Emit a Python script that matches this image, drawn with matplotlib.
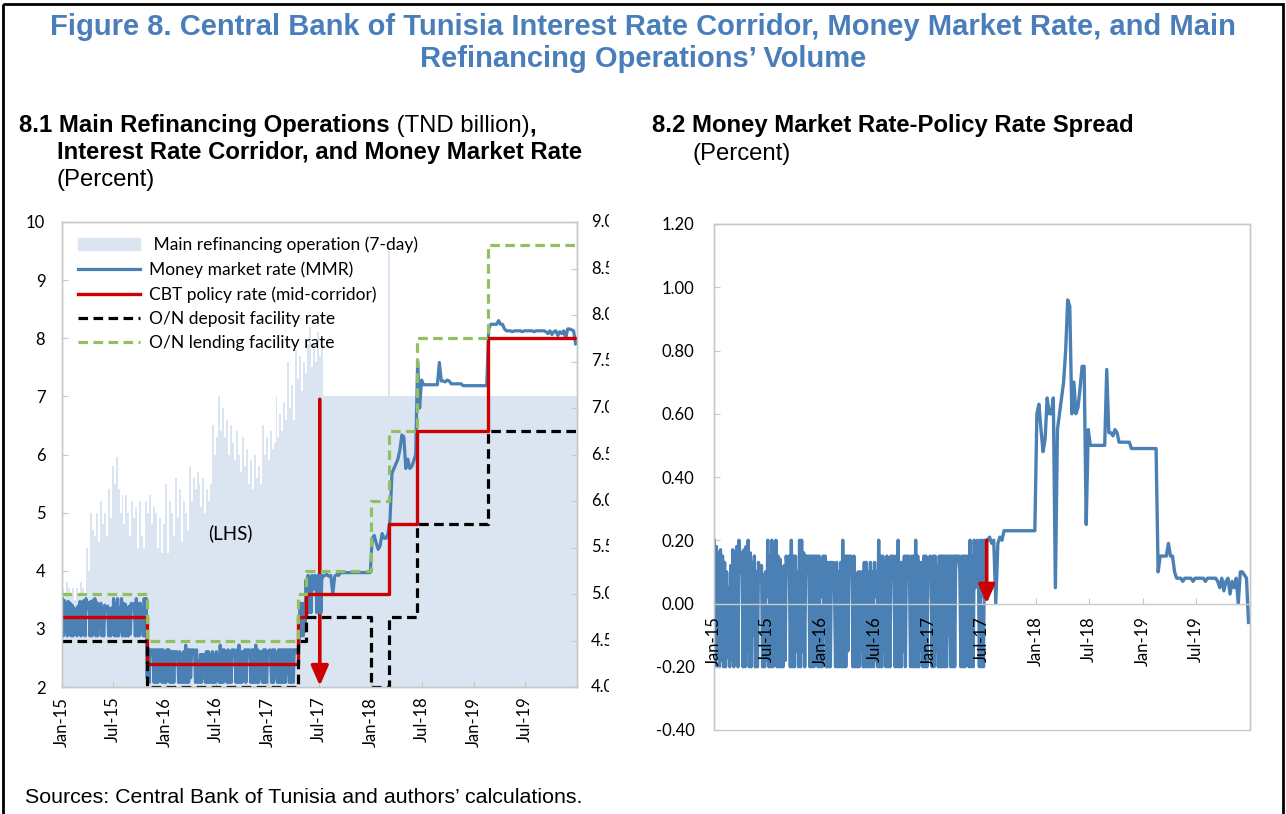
import numpy as np
import pandas as pd
import matplotlib
matplotlib.use("Agg")
import matplotlib.pyplot as plt
from matplotlib.patches import Patch, Rectangle
from matplotlib.lines import Line2D
from matplotlib.transforms import Bbox, TransformedBbox, blended_transform_factory

plt.rcParams['font.family'] = ['Lato', 'DejaVu Sans']

# ---------------- data ----------------
start = '2015-01-02'

# MMR minus policy rate, percent: twice a week up to mid-July 2017 ...
spread_early = [
    0.20, -0.20, 0.18, -0.15, 0.16, -0.20, 0.17, -0.18, 0.15, -0.20, 0.13, -0.20, 0.10, -0.17,
    0.05, -0.20, 0.12, -0.18, 0.17, -0.20, 0.16, -0.15, 0.18, -0.20, 0.20, 0.15, 0.10, 0.16,
    -0.20, 0.17, -0.20, 0.18, -0.15, 0.20, -0.20, 0.16, -0.20, 0.13, -0.10, 0.15, -0.20, 0.10,
    -0.20, 0.13, 0.08, 0.10, 0.12, -0.20, 0.09, -0.20, 0.10, -0.18, 0.20, -0.20, 0.15, -0.20,
    0.20, -0.20, 0.10, -0.15, 0.20, -0.20, 0.15, -0.20, 0.14, -0.20, 0.10, -0.20, 0.12, -0.18,
    0.15, 0.10, 0.12, 0.15, -0.20, 0.20, -0.20, 0.15, -0.20, 0.15, -0.15, 0.10, -0.20, 0.20,
    -0.20, 0.20, -0.15, 0.16, -0.20, 0.15, 0.15, 0.10, 0.15, -0.20, 0.15, -0.20, 0.15, -0.20,
    0.15, -0.15, 0.15, -0.20, 0.15, -0.20, 0.13, -0.20, 0.15, -0.10, 0.15, -0.20, 0.13, -0.20,
    0.13, -0.20, 0.13, 0.10, 0.13, 0.05, -0.20, 0.13, -0.20, 0.10, -0.20, 0.13, -0.20, 0.20,
    -0.20, 0.15, -0.20, 0.15, -0.15, 0.15, 0.12, 0.15, 0.13, -0.20, 0.15, -0.20, 0.03, -0.20,
    0.10, -0.20, 0.10, -0.15, 0.10, -0.20, 0.13, -0.20, 0.13, -0.20, 0.10, -0.20, 0.13, -0.20,
    0.10, -0.20, 0.13, -0.18, 0.10, -0.20, 0.20, -0.20, 0.15, -0.20, 0.15, -0.15, 0.13, -0.20,
    0.15, -0.20, 0.13, -0.20, 0.15, 0.12, 0.15, 0.10, -0.20, 0.15, -0.20, 0.20, -0.20, 0.13,
    -0.20, 0.13, -0.15, 0.15, -0.20, 0.15, 0.13, 0.15, 0.10, -0.20, 0.15, -0.20, 0.15, -0.20,
    0.20, -0.20, 0.15, -0.20, 0.13, -0.15, 0.13, -0.20, 0.15, -0.20, 0.15, -0.20, 0.13, 0.10,
    0.15, 0.11, -0.20, 0.15, -0.20, 0.15, -0.15, 0.12, -0.20, 0.15, -0.20, 0.15, -0.20, 0.15,
    -0.20, 0.15, -0.20, 0.15, -0.10, 0.15, -0.20, 0.15, -0.20, 0.15, -0.20, 0.15, 0.15, 0.13,
    0.15, 0.10, -0.20, 0.15, -0.20, 0.15, -0.20, 0.15, -0.15, 0.15, -0.20, 0.20, -0.20, 0.15,
    -0.20, 0.20, 0.05, 0.10, 0.20, 0.15, -0.20, 0.20, -0.20, 0.20, -0.20, 0.20, 0.18, 0.20,
]
# ... then weekly to the end of 2019
spread_late = [
    0.20, 0.21, 0.19, 0.20, 0.00, 0.19, 0.21, 0.20,
    0.23, 0.23, 0.23, 0.23, 0.23, 0.23, 0.23, 0.23,
    0.23, 0.23, 0.23, 0.23, 0.23, 0.23, 0.23, 0.23,
    0.60, 0.63, 0.55, 0.48, 0.52, 0.65, 0.60, 0.60, 0.65,
    0.05, 0.55, 0.60, 0.65, 0.70, 0.80, 0.96, 0.94,
    0.60, 0.70, 0.60, 0.62, 0.68, 0.75, 0.75, 0.25, 0.55,
    0.50, 0.50, 0.50, 0.50, 0.50, 0.50, 0.50, 0.50, 0.74,
    0.54, 0.54, 0.53, 0.55, 0.54,
    0.51, 0.51, 0.51, 0.51, 0.51, 0.51,
    0.49, 0.49, 0.49, 0.49, 0.49, 0.49, 0.49, 0.49, 0.49, 0.49, 0.49, 0.49, 0.49,
    0.10, 0.15, 0.15, 0.15, 0.15, 0.19, 0.15, 0.15, 0.10,
    0.08, 0.08, 0.08, 0.07, 0.08, 0.08, 0.08, 0.08, 0.07, 0.08,
    0.08, 0.08, 0.08, 0.08, 0.07, 0.08, 0.08, 0.08, 0.08, 0.08,
    0.07, 0.05, 0.08, 0.04, 0.07, 0.08, 0.03, 0.07, 0.05, 0.08, 0.00,
    0.10, 0.10, 0.09, 0.08, -0.06,
]

# main refinancing operations, TND billion, weekly
mro = [
    3.7, 3.6, 3.8, 3.7, 3.6, 3.7, 3.5, 3.7, 3.6, 3.8, 3.7, 3.6,
    4.4, 4.0, 5.0, 4.7, 4.6, 5.0, 4.5, 5.2, 4.8, 5.0, 4.6, 5.4, 4.9,
    5.8, 5.5, 5.95, 5.4, 5.0, 5.3, 4.8, 5.3, 5.0, 4.6, 5.2, 4.9,
    5.1, 4.4, 5.2, 4.6, 4.4, 5.2, 5.0, 5.3, 4.8, 5.1,
    5.0, 4.4, 4.9, 4.3, 4.8, 5.5, 4.3, 5.2, 5.0, 4.6,
    5.6, 4.9, 5.4, 4.5, 5.2, 5.0, 4.7, 5.8, 5.2, 5.6, 5.4, 5.7,
    5.5, 5.1, 5.6, 5.0, 5.4, 5.2, 5.5, 6.5, 6.0, 6.3, 7.0, 6.4,
    6.8, 6.3, 6.6, 6.0, 6.5, 6.2, 5.9, 6.4, 6.0, 5.7, 6.3, 5.8,
    6.1, 5.5, 5.9, 5.4, 6.0, 5.6, 5.8, 5.5,
    6.5, 6.0, 6.3, 5.9, 6.4, 6.1, 6.2, 7.0, 6.3, 6.7, 6.4, 6.9, 6.6,
    7.6, 6.8, 7.2, 6.6, 7.8, 7.3, 7.7, 7.1, 7.6, 7.4, 7.9,
    8.2, 7.5, 7.9, 7.6, 8.1, 7.7, 8.0,
    7.0, 7.0, 7.0, 7.0, 7.0, 7.0, 7.0, 7.0, 7.0, 7.0,
    7.0, 7.0, 7.0, 7.0, 7.0, 7.0, 7.0, 7.0, 7.0, 7.0,
    7.0, 7.0, 7.0, 7.0, 7.0, 7.0, 7.0, 7.0, 7.0, 7.0,
    7.0, 7.0, 7.0, 9.5, 7.0, 7.0, 7.0, 7.0, 7.0, 7.0,
    7.0, 7.0, 7.0, 7.0, 7.0, 7.0, 7.0, 7.0, 7.0, 7.0,
    7.0, 7.0, 7.0, 7.0, 7.0, 7.0, 7.0, 7.0, 7.0, 7.0,
    7.0, 7.0, 7.0, 7.0, 7.0, 7.0, 7.0, 7.0, 7.0, 7.0,
    7.0, 7.0, 7.0, 7.0, 7.0, 7.0, 7.0, 7.0, 7.0, 7.0,
    7.0, 7.0, 7.0, 7.0, 7.0, 7.0, 7.0, 7.0, 7.0, 7.0,
    7.0, 7.0, 7.0, 7.0, 7.0, 7.0, 7.0, 7.0, 7.0, 7.0,
    7.0, 7.0, 7.0, 7.0, 7.0, 7.0, 7.0, 7.0, 7.0, 7.0,
    7.0, 7.0, 7.0, 7.0, 7.0, 7.0, 7.0, 7.0, 7.0, 7.0,
    7.0, 7.0, 7.0, 7.0, 7.0, 7.0, 7.0, 7.0, 7.0,
]

# policy rate and corridor (percent), each value holds from its date on
policy_dates = ['2015-01-01', '2015-10-29', '2017-04-18', '2017-05-15',
                '2018-03-05', '2018-06-13', '2019-02-20', '2020-01-01']
policy = [4.75, 4.25, 4.75, 5.00, 5.75, 6.75, 7.75, 7.75]

corridor_dates = ['2015-01-01', '2015-10-29', '2017-04-18', '2017-05-15', '2018-01-01',
                  '2018-03-05', '2018-06-13', '2019-02-20', '2020-01-01']
deposit = [4.50, 4.00, 4.50, 4.75, 4.00, 4.75, 5.75, 6.75, 6.75]
lending = [5.00, 4.50, 5.00, 5.25, 6.00, 6.75, 7.75, 8.75, 8.75]

cap_left = '2017-07-03'
cap_right = '2017-07-18'

xtick_labels = ['Jan-15', 'Jul-15', 'Jan-16', 'Jul-16', 'Jan-17',
                'Jul-17', 'Jan-18', 'Jul-18', 'Jan-19', 'Jul-19']
lhs_ticks = [2, 3, 4, 5, 6, 7, 8, 9, 10]
rhs_ticks = [4.0, 4.5, 5.0, 5.5, 6.0, 6.5, 7.0, 7.5, 8.0, 8.5, 9.0]
spread_ticks = [-0.40, -0.20, 0.00, 0.20, 0.40, 0.60, 0.80, 1.00, 1.20]

# ---------------- derived ----------------
t_early = pd.date_range(start, periods=len(spread_early), freq='84h')
t_late = pd.date_range(pd.Timestamp(start) + pd.Timedelta(days=3.5 * len(spread_early)),
                       periods=len(spread_late), freq='7D')
t_sp = t_early.append(t_late)
spread = np.array(spread_early + spread_late)
wk_mro = pd.date_range(start, periods=len(mro), freq='7D')
pol_t = pd.to_datetime(policy_dates)
cor_t = pd.to_datetime(corridor_dates)
idx = np.searchsorted(pol_t.values, t_sp.values, side='right') - 1
mmr = np.array(policy)[idx] + spread
xticks = pd.date_range('2015-01-01', periods=len(xtick_labels), freq='6MS')
x0, x1 = pd.Timestamp('2015-01-01'), pd.Timestamp('2020-01-01')

MRO_C = '#dbe5f1'
MMR_C = '#4a80b4'
RED = '#cc0000'
GREEN = '#93c05f'
GRAY = '#c8c8c8'
TITLE_C = '#4a7ebb'
W, H = 1286, 814

fig = plt.figure(figsize=(W / 100, H / 100), dpi=100)

# background axes in pixel coordinates for the page texts
bg = fig.add_axes([0, 0, 1, 1], zorder=-5)
bg.set_xlim(0, W)
bg.set_ylim(H, 0)
bg.axis('off')
bg.add_patch(Rectangle((3, 4), W - 6, H + 10, fill=False, ec='black', lw=2))

tfont = dict(family=['Liberation Sans', 'DejaVu Sans'])
bg.text(643, 27, 'Figure 8. Central Bank of Tunisia Interest Rate Corridor, Money Market Rate, and Main',
        ha='center', va='center', fontsize=21, weight='bold', color=TITLE_C, **tfont)
bg.text(643, 59, 'Refinancing Operations\u2019 Volume',
        ha='center', va='center', fontsize=21, weight='bold', color=TITLE_C, **tfont)

sfs = 17.2
t1 = bg.text(19, 132, '8.1 Main Refinancing Operations', fontsize=sfs, weight='bold',
             va='baseline', **tfont)
t2 = bg.annotate(' (TND billion)', xy=(1, 0), xycoords=t1, va='bottom', ha='left',
                 fontsize=sfs, **tfont)
bg.annotate(',', xy=(1, 0), xycoords=t2, va='bottom', ha='left', fontsize=sfs,
            weight='bold', **tfont)
bg.text(57, 159, 'Interest Rate Corridor, and Money Market Rate', fontsize=sfs,
        weight='bold', va='baseline', **tfont)
bg.text(57, 186, '(Percent)', fontsize=sfs, va='baseline', **tfont)
bg.text(652, 132, '8.2 Money Market Rate-Policy Rate Spread', fontsize=sfs,
        weight='bold', va='baseline', **tfont)
bg.text(692, 160, '(Percent)', fontsize=sfs, va='baseline', **tfont)
bg.text(25, 803, 'Sources: Central Bank of Tunisia and authors\u2019 calculations.',
        fontsize=15.4, va='baseline', **tfont)

# ---------------- 8.1 ----------------
ax1 = fig.add_axes([62 / W, 1 - 687 / H, 515 / W, 465 / H])
ax1r = ax1.twinx()
ax1.bar(wk_mro, mro, width=7, align='edge', color=MRO_C, linewidth=0, zorder=1)
ax1.set_xlim(x0, x1)
ax1.set_ylim(2, 10)
ax1.set_yticks(lhs_ticks)
ax1.set_xticks(xticks)
ax1.set_xticklabels(xtick_labels, rotation=90)
ax1.tick_params(axis='both', direction='in', length=4, color=GRAY, labelsize=12)
ax1.tick_params(axis='y', pad=12)
ax1.tick_params(axis='x', pad=7)

ax1r.plot(t_sp, mmr, color=MMR_C, lw=2.3)
ax1r.step(pol_t, policy, where='post', color=RED, lw=2.4)
ax1r.step(cor_t, deposit, where='post', color='black', lw=2.3, ls=(0, (3, 1.7)))
ax1r.step(cor_t, lending, where='post', color=GREEN, lw=2.3, ls=(0, (3, 1.7)))
ax1r.set_ylim(4, 9)
ax1r.set_yticks(rhs_ticks)
ax1r.set_yticklabels([])
ax1r.tick_params(axis='y', direction='in', length=4, color=GRAY)
ax1r.set_xlim(x0, x1)

# right-hand labels, cut off at the frame edge like the source
clip = TransformedBbox(Bbox([[0, 0], [609 / W, 1]]), fig.transFigure)
rtr = blended_transform_factory(fig.transFigure, ax1r.transData)
for v in rhs_ticks:
    fig.text(591 / W, v, f'{v:.1f}', transform=rtr, ha='left', va='center',
             fontsize=12, clip_on=True, clip_box=clip)

for a in (ax1, ax1r):
    for s in a.spines.values():
        s.set_color(GRAY)
        s.set_linewidth(1)

handles = [Patch(color=MRO_C),
           Line2D([], [], color=MMR_C, lw=2.3),
           Line2D([], [], color=RED, lw=2.4),
           Line2D([], [], color='black', lw=2.3, ls=(0, (3, 1.7))),
           Line2D([], [], color=GREEN, lw=2.3, ls=(0, (3, 1.7)))]
labels = [' Main refinancing operation (7-day)', 'Money market rate (MMR)',
          'CBT policy rate (mid-corridor)', 'O/N deposit facility rate',
          'O/N lending facility rate']
ax1r.legend(handles, labels, loc='upper left', bbox_to_anchor=(0.031, 0.969),
            frameon=False, fontsize=12.5, handlelength=3.6, handletextpad=0.5,
            labelspacing=0.48, borderpad=0, borderaxespad=0)

ax1.text(pd.Timestamp('2016-08-20'), 4.64, '(LHS)', ha='center', va='center', fontsize=13.5)
ax1.annotate('', xy=(pd.Timestamp(cap_left), 2.02), xytext=(pd.Timestamp(cap_left), 6.95),
             arrowprops=dict(arrowstyle='-|>,head_length=0.8,head_width=0.35',
                             color=RED, lw=2.6, mutation_scale=15, shrinkA=0, shrinkB=0),
             zorder=6)
bg.text(324, 353, 'Cap on\nthe MRO', ha='left', va='top', fontsize=12, weight='bold',
        color=RED, linespacing=1.35)

# ---------------- 8.2 ----------------
ax2 = fig.add_axes([714 / W, 1 - 730 / H, 536 / W, 506 / H])
ax2.set_axisbelow(False)          # date labels sit on top of the line, as in Excel
ax2.plot(t_sp, spread, color=MMR_C, lw=2.4)
ax2.set_xlim(x0, x1)
ax2.set_ylim(-0.4, 1.2)
ax2.spines['bottom'].set_position(('data', 0))
ax2.set_yticks(spread_ticks)
ax2.set_yticklabels([f'{v:.2f}' for v in spread_ticks])
ax2.set_xticks(xticks)
ax2.set_xticklabels(xtick_labels, rotation=90)
for s in ax2.spines.values():
    s.set_color(GRAY)
    s.set_linewidth(1)
ax2.add_patch(Rectangle((0, 0), 1, 1, transform=ax2.transAxes, fill=False,
                        ec=GRAY, lw=1, clip_on=False))
ax2.tick_params(axis='both', direction='in', length=4, color=GRAY, labelsize=12)
ax2.tick_params(axis='y', pad=14)
ax2.tick_params(axis='x', pad=9)
ax2.annotate('', xy=(pd.Timestamp(cap_right), 0.0), xytext=(pd.Timestamp(cap_right), 0.2),
             arrowprops=dict(arrowstyle='-|>,head_length=0.8,head_width=0.35',
                             color=RED, lw=2.6, mutation_scale=14, shrinkA=0, shrinkB=0),
             zorder=6)
bg.text(936, 486, 'Cap on\nthe MRO', ha='left', va='top', fontsize=12, weight='bold',
        color=RED, linespacing=1.35)

fig.savefig('out.png', dpi=100)
